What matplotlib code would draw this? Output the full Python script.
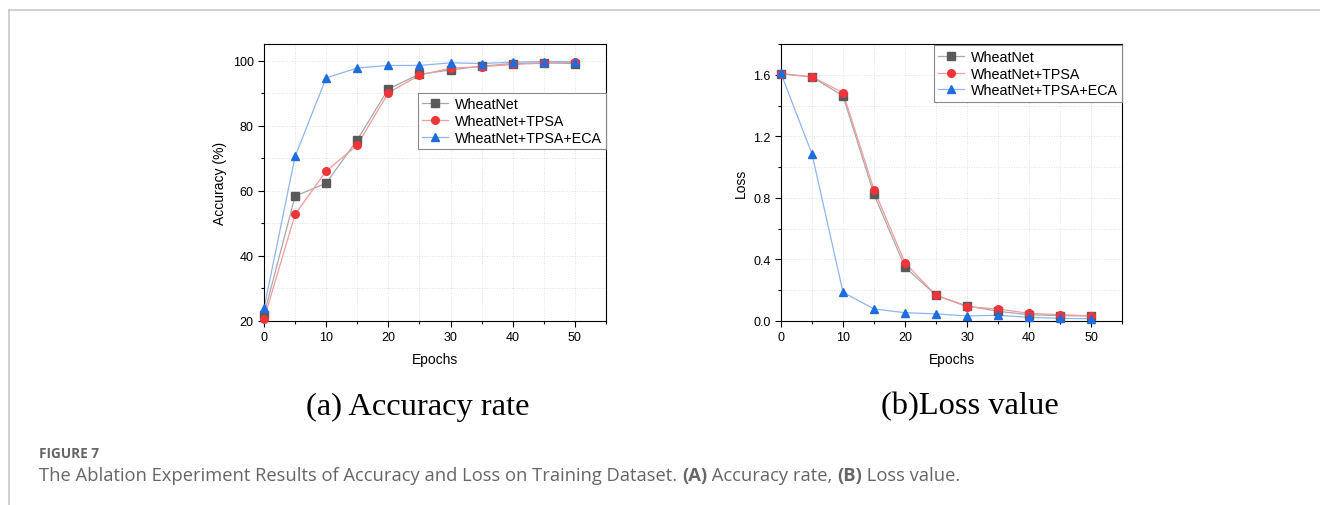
import matplotlib
matplotlib.use("Agg")
import matplotlib.pyplot as plt
from matplotlib.lines import Line2D
from matplotlib.ticker import MultipleLocator, FormatStrFormatter

epochs = [0, 5, 10, 15, 20, 25, 30, 35, 40, 45, 50]
series_names = ["WheatNet", "WheatNet+TPSA", "WheatNet+TPSA+ECA"]

acc_wheatnet = [21.9, 58.4, 62.4, 75.7, 91.4, 95.9, 97.2, 98.4, 99.2, 99.4, 99.2]
acc_tpsa = [20.6, 52.8, 66.1, 74.1, 90.2, 95.6, 97.8, 98.2, 98.9, 99.3, 99.6]
acc_eca = [23.9, 70.6, 94.8, 97.8, 98.6, 98.6, 99.4, 99.2, 99.6, 99.8, 99.8]

loss_wheatnet = [1.607, 1.585, 1.463, 0.823, 0.350, 0.167, 0.098, 0.063, 0.041, 0.035, 0.033]
loss_tpsa = [1.607, 1.587, 1.483, 0.853, 0.378, 0.167, 0.093, 0.078, 0.050, 0.041, 0.033]
loss_eca = [1.609, 1.085, 0.187, 0.078, 0.054, 0.046, 0.033, 0.037, 0.024, 0.017, 0.015]

marker_colors = ["#5a5a5a", "#f0353a", "#1e6de0"]
line_colors = ["#a8a8a8", "#f59a9c", "#8db6f0"]
markers = ["s", "o", "^"]

W, H = 1320, 506
fig = plt.figure(figsize=(W / 100, H / 100), dpi=100)
plt.rcParams["font.family"] = ["Liberation Sans", "DejaVu Sans"]


def px_axes(x0, y0, x1, y1):
    return fig.add_axes([x0 / W, 1 - y1 / H, (x1 - x0) / W, (y1 - y0) / H])


def style_axes(ax):
    ax.tick_params(which="both", direction="out", top=False, right=False,
                   labelsize=9, colors="black")
    ax.tick_params(which="major", length=4, width=0.8)
    ax.tick_params(which="minor", length=2.5, width=0.8)
    for s in ax.spines.values():
        s.set_linewidth(0.8)
    ax.grid(True, which="both", color="#d8d8d8", linestyle=(0, (1, 2)), linewidth=0.6)
    ax.set_axisbelow(True)


def plot_series(ax, ys_list):
    handles = []
    for ys, mc, lc, m, name in zip(ys_list, marker_colors, line_colors, markers, series_names):
        ax.plot(epochs, ys, color=lc, linewidth=0.9, zorder=2, clip_on=False)
        ax.plot(epochs, ys, linestyle="none", marker=m, markersize=5.5,
                markerfacecolor=mc, markeredgecolor=mc, zorder=3, clip_on=False)
        handles.append(Line2D([], [], color=lc, linewidth=0.9, marker=m, markersize=5.5,
                              markerfacecolor=mc, markeredgecolor=mc, label=name))
    return handles


def make_legend(ax, handles, anchor_y):
    leg = ax.legend(handles=handles, loc="upper right", bbox_to_anchor=(1.0, anchor_y),
                    borderaxespad=0, fontsize=10.3, frameon=True, fancybox=False,
                    edgecolor="#888888", framealpha=1, handlelength=1.8,
                    handletextpad=0.5, borderpad=0.3, labelspacing=0.2)
    leg.get_frame().set_linewidth(0.8)
    return leg


# Accuracy
ax1 = px_axes(264, 45, 606, 322)
h = plot_series(ax1, [acc_wheatnet, acc_tpsa, acc_eca])
ax1.set_xlim(0, 55)
ax1.set_ylim(20, 105.2)
ax1.xaxis.set_major_locator(MultipleLocator(10))
ax1.xaxis.set_minor_locator(MultipleLocator(5))
ax1.yaxis.set_major_locator(MultipleLocator(20))
ax1.yaxis.set_minor_locator(MultipleLocator(10))
style_axes(ax1)
ax1.set_xlabel("Epochs", fontsize=10, labelpad=6)
ax1.set_ylabel("Accuracy (%)", fontsize=10, labelpad=4)
make_legend(ax1, h, 0.823)

# Loss
ax2 = px_axes(781, 45, 1122, 322)
h = plot_series(ax2, [loss_wheatnet, loss_tpsa, loss_eca])
ax2.set_xlim(0, 55)
ax2.set_ylim(0, 1.8)
ax2.xaxis.set_major_locator(MultipleLocator(10))
ax2.xaxis.set_minor_locator(MultipleLocator(5))
ax2.yaxis.set_major_locator(MultipleLocator(0.4))
ax2.yaxis.set_minor_locator(MultipleLocator(0.2))
ax2.yaxis.set_major_formatter(FormatStrFormatter("%.1f"))
style_axes(ax2)
ax2.set_xlabel("Epochs", fontsize=10, labelpad=6)
ax2.set_ylabel("Loss", fontsize=10, labelpad=4)
make_legend(ax2, h, 0.995)

# Sub-captions
fig.text(418 / W, 1 - 407 / H, "(a) Accuracy rate", family=["Liberation Serif"],
         fontsize=23.4, ha="center", va="center")
fig.text(970 / W, 1 - 407 / H, "(b)Loss value", family=["Liberation Serif"],
         fontsize=23.4, ha="center", va="center")

# Frame lines
fig.add_artist(Line2D([9 / W, 1], [1 - 11 / H, 1 - 11 / H], color="#c8c8c8", linewidth=1.2))
fig.add_artist(Line2D([9 / W, 9 / W], [0, 1 - 11 / H], color="#c8c8c8", linewidth=1.2))

# Figure caption
fig.text(39 / W, 1 - 454 / H, "FIGURE 7", family=["Open Sans", "DejaVu Sans"],
         fontsize=9.8, weight="bold", color="#666666", ha="left", va="center")

renderer = fig.canvas.get_renderer()
pieces = [
    ("The Ablation Experiment Results of Accuracy and Loss on Training Dataset. ", "normal"),
    ("(A)", "bold"),
    (" Accuracy rate, ", "normal"),
    ("(B)", "bold"),
    (" Loss value.", "normal"),
]
xpx = 39
for txt, wt in pieces:
    t = fig.text(xpx / W, 1 - 476 / H, txt, family=["Open Sans", "DejaVu Sans"],
                 fontsize=13.2, color="#666666", weight=wt, ha="left", va="center")
    bb = t.get_window_extent(renderer=renderer)
    xpx += bb.width

fig.savefig("out.png", dpi=100)
